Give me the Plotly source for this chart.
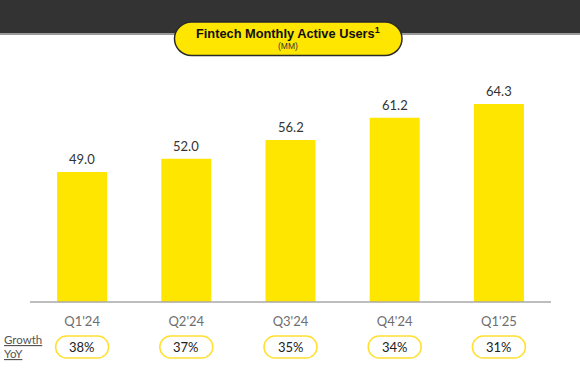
import plotly.graph_objects as go

# ---- data ----
categories = ["Q1'24", "Q2'24", "Q3'24", "Q4'24", "Q1'25"]
mau_values = [49.0, 52.0, 56.2, 61.2, 64.3]
growth_yoy = ["38%", "37%", "35%", "34%", "31%"]
title_text = "Fintech Monthly Active Users"
unit_text = "(MM)"

# ---- geometry helpers (pixel -> paper) ----
W, H = 580, 386
L, R, T, B = 30, 29, 60, 84
PW = W - L - R
PH = H - T - B


def px_x(px):
    return (px - L) / PW


def px_y(py):
    return (H - B - py) / PH


def pill_path(x0, x1, y0, y1, fx, fy, rx):
    """pill-shaped path; x in units handled by fx, y in pixels; rx = radius in x units"""
    k = 0.5523
    cy = (y0 + y1) / 2
    r = (y1 - y0) / 2
    P = lambda x, y: f"{fx(x)},{fy(y)}"
    d = (f"M{P(x0 + rx, y0)} L{P(x1 - rx, y0)} "
         f"C{P(x1 - rx + k * rx, y0)} {P(x1, cy - k * r)} {P(x1, cy)} "
         f"C{P(x1, cy + k * r)} {P(x1 - rx + k * rx, y1)} {P(x1 - rx, y1)} "
         f"L{P(x0 + rx, y1)} "
         f"C{P(x0 + rx - k * rx, y1)} {P(x0, cy + k * r)} {P(x0, cy)} "
         f"C{P(x0, cy - k * r)} {P(x0 + rx - k * rx, y0)} {P(x0 + rx, y0)} Z")
    return d


FONT = "Lato, 'Open Sans', 'Liberation Sans', sans-serif"
TFONT = "'Liberation Sans', Arial, sans-serif"
YELLOW = "#FFE600"

fig = go.Figure()
fig.add_trace(go.Bar(
    x=categories, y=mau_values,
    marker=dict(color=YELLOW, line=dict(width=0)),
    hoverinfo="skip",
))

shapes = []
annotations = []

# dark top band
shapes.append(dict(type="rect", xref="paper", yref="paper",
                   x0=px_x(-2), x1=px_x(582), y0=px_y(33), y1=px_y(-2),
                   fillcolor="#333333", line=dict(width=0), layer="below"))
shapes.append(dict(type="line", xref="paper", yref="paper",
                   x0=px_x(-2), x1=px_x(582), y0=px_y(34), y1=px_y(34),
                   line=dict(color="#9a9a9a", width=2)))

# title pill
shapes.append(dict(type="path", xref="paper", yref="paper",
                   path=pill_path(174.5, 402, 22, 55.5, px_x, px_y, 17),
                   fillcolor=YELLOW, line=dict(color="#2a2a2a", width=1.5)))
annotations.append(dict(xref="paper", yref="paper", x=px_x(288), y=px_y(33),
                        text=f"<b>{title_text}<sup>1</sup></b>", showarrow=False,
                        font=dict(family=TFONT, size=12.8, color="#111111"),
                        xanchor="center", yanchor="middle"))
annotations.append(dict(xref="paper", yref="paper", x=px_x(288), y=px_y(46.5),
                        text=unit_text, showarrow=False,
                        font=dict(family=TFONT, size=8.5, color="#333333"),
                        xanchor="center", yanchor="middle"))

# baseline
shapes.append(dict(type="line", xref="paper", yref="paper",
                   x0=0, x1=1, y0=0, y1=0,
                   line=dict(color="#a8a8a8", width=1.5)))

# value labels
for c, v in zip(categories, mau_values):
    annotations.append(dict(x=c, y=v, xref="x", yref="y", text=f"{v:.1f}",
                            showarrow=False, yanchor="middle", yshift=13,
                            font=dict(family=FONT, size=13, color="#333333")))

# growth pills
cat_px = PW / len(categories)
half_w = 26.5 / cat_px
rx_units = 11 / cat_px
ident = lambda v: v
for i, (c, g) in enumerate(zip(categories, growth_yoy)):
    shapes.append(dict(type="path", xref="x", yref="paper",
                       path=pill_path(i - half_w, i + half_w, 336, 358, ident, px_y, rx_units),
                       fillcolor="white", line=dict(color="#FFE033", width=1.5)))
    annotations.append(dict(x=c, xref="x", yref="paper", y=px_y(347), text=g,
                            showarrow=False, yanchor="middle",
                            font=dict(family=FONT, size=13, color="#222222")))

# Growth YoY label
annotations.append(dict(xref="paper", yref="paper", x=px_x(2), y=px_y(339.5),
                        text="<u>Growth</u>", showarrow=False, xanchor="left", yanchor="middle",
                        font=dict(family=FONT, size=11.5, color="#555555")))
annotations.append(dict(xref="paper", yref="paper", x=px_x(2), y=px_y(353),
                        text="<u>YoY</u>", showarrow=False, xanchor="left", yanchor="middle",
                        font=dict(family=FONT, size=11.5, color="#555555")))

fig.update_layout(
    width=W, height=H, autosize=False,
    margin=dict(l=L, r=R, t=T, b=B, pad=0),
    paper_bgcolor="white", plot_bgcolor="white",
    showlegend=False,
    bargap=0.52,
    shapes=shapes,
    annotations=annotations,
    font=dict(family=FONT),
)
fig.update_xaxes(type="category", range=[-0.5, 4.5], showgrid=False, zeroline=False,
                 showline=False, ticks="", ticklabelstandoff=10,
                 tickfont=dict(family=FONT, size=13, color="#6e6e6e"))
fig.update_yaxes(range=[19.75, 19.75 + PH / 4.444], visible=False, showgrid=False,
                 zeroline=False)

fig.write_html("out.html", config={"displayModeBar": False},
               post_script="document.body.style.margin='0';")
